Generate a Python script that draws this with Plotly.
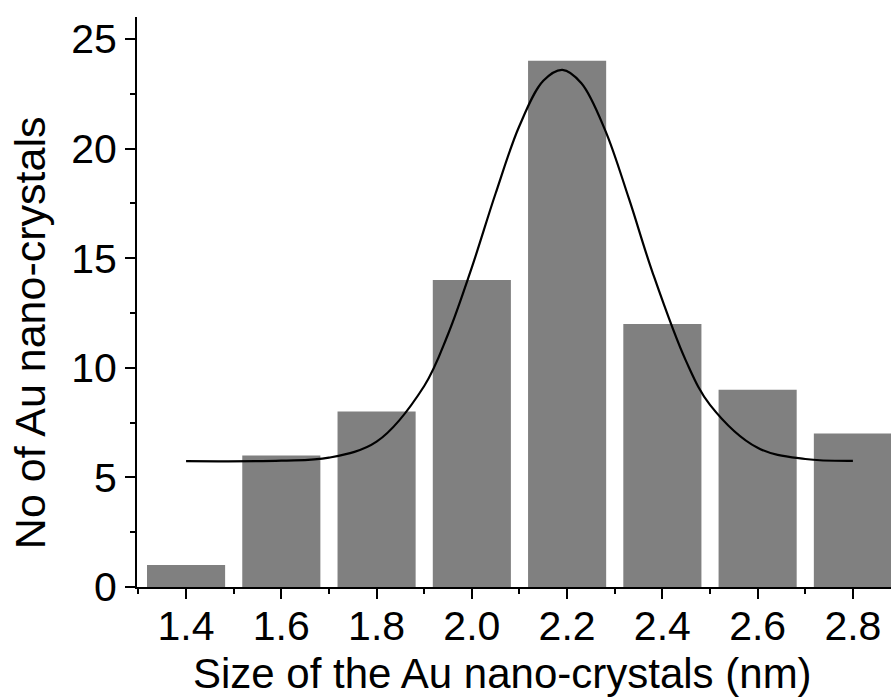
import plotly.graph_objects as go

# Histogram data
sizes = [1.4, 1.6, 1.8, 2.0, 2.2, 2.4, 2.6, 2.8]
counts = [1, 6, 8, 14, 24, 12, 9, 7]

# Fitted curve, points
fit_x = [1.40, 1.60, 1.70, 1.80, 1.90, 1.95, 2.00, 2.05, 2.10, 2.15, 2.19,
         2.23, 2.28, 2.33, 2.38, 2.45, 2.50, 2.60, 2.70, 2.80]
fit_y = [5.74, 5.76, 5.90, 6.63, 9.17, 11.53, 14.58, 17.96, 21.04, 23.09, 23.59,
         22.98, 20.83, 17.70, 14.31, 10.29, 8.31, 6.35, 5.84, 5.75]

x_ticks = [1.4, 1.6, 1.8, 2.0, 2.2, 2.4, 2.6, 2.8]
x_labels = ["1.4", "1.6", "1.8", "2.0", "2.2", "2.4", "2.6", "2.8"]
y_ticks = [0, 5, 10, 15, 20, 25]

x_title = "Size of the Au nano-crystals (nm)"
y_title = "No of Au nano-crystals"

FONT = "Liberation Sans, Arial, sans-serif"

fig = go.Figure()
fig.add_trace(go.Bar(x=sizes, y=counts, width=0.164,
                     marker=dict(color="#808080", line=dict(width=0)),
                     showlegend=False, hoverinfo="skip"))
fig.add_trace(go.Scatter(x=fit_x, y=fit_y, mode="lines",
                         line=dict(color="black", width=2.2, shape="spline", smoothing=1.0),
                         showlegend=False))

fig.update_layout(
    width=891, height=700,
    margin=dict(l=137, r=0, t=17, b=113),
    plot_bgcolor="white", paper_bgcolor="white",
    font=dict(family=FONT, size=41, color="black"),
    xaxis=dict(
        range=[1.297, 2.88], tickvals=x_ticks, ticktext=x_labels,
        ticks="outside", ticklen=10, tickwidth=2, tickcolor="black",
        ticklabelstandoff=-8,
        showline=True, linecolor="black", linewidth=2, showgrid=False, zeroline=False,
        tickfont=dict(family=FONT, size=41),
        minor=dict(tickvals=[1.3, 1.5, 1.7, 1.9, 2.1, 2.3, 2.5, 2.7], ticks="outside",
                   ticklen=5, tickwidth=1.5, tickcolor="black", showgrid=False),
    ),
    yaxis=dict(
        range=[0, 26], tickvals=y_ticks,
        ticks="outside", ticklen=10, tickwidth=2, tickcolor="black",
        showline=True, linecolor="black", linewidth=2, showgrid=False, zeroline=False,
        tickfont=dict(family=FONT, size=41),
        minor=dict(tickvals=[2.5, 7.5, 12.5, 17.5, 22.5], ticks="outside",
                   ticklen=5, tickwidth=1.5, tickcolor="black", showgrid=False),
    ),
    annotations=[
        dict(text=x_title, xref="paper", yref="paper", x=0.485, y=-0.151,
             xanchor="center", yanchor="middle", showarrow=False,
             font=dict(family=FONT, size=42, color="black")),
        dict(text=y_title, xref="paper", yref="paper", x=-0.142, y=0.447,
             xanchor="center", yanchor="middle", textangle=-90, showarrow=False,
             font=dict(family=FONT, size=43, color="black")),
    ],
)

fig.write_html("out.html")
